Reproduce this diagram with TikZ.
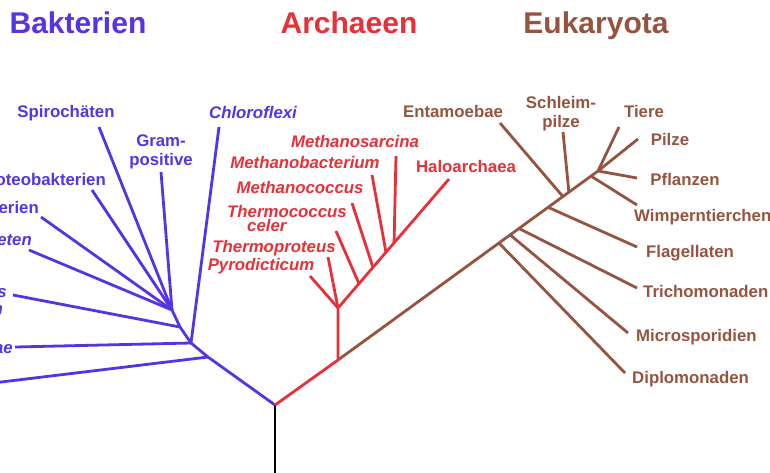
\documentclass[tikz,border=0pt]{standalone}
\usepackage{fontspec}
\setmainfont{Liberation Sans}
\usetikzlibrary{calc}
\definecolor{bact}{RGB}{85,51,230}
\definecolor{arch}{RGB}{232,48,56}
\definecolor{euk}{RGB}{150,84,64}
\begin{document}
\begin{tikzpicture}[x=1pt,y=-1pt,
  lbl/.style={inner sep=0pt, font=\bfseries\fontsize{16.8}{19}\selectfont},
  ilbl/.style={inner sep=0pt, font=\bfseries\itshape\fontsize{16.8}{19}\selectfont},
  ttl/.style={inner sep=0pt, anchor=base, font=\bfseries\fontsize{30}{32}\selectfont},
  branch/.style={line width=2.8pt, line join=round},
  bb/.style={branch, draw=bact},
  ab/.style={branch, draw=arch},
  eb/.style={branch, draw=euk}]
\useasboundingbox (0,0) rectangle (770,472);
\clip (0,0) rectangle (770,472);

% titles
\node[ttl, text=bact] (tB) at (78,33) {Bakterien};
\node[ttl, text=arch] (tA) at (349,33) {Archaeen};
\node[ttl, text=euk]  (tE) at (596,33) {Eukaryota};

% ---------- tree skeleton ----------
\coordinate (root) at (275,405);
\coordinate (base) at (275,475);
% bacteria
\coordinate (A) at (208,357);
\coordinate (B) at (191,343);
\coordinate (C) at (180,327);
\coordinate (D) at (172,310);
\coordinate (eAqu) at (-3,382.5);
\coordinate (eThg) at (15,347);
\coordinate (eChl) at (219,127);
\coordinate (eBac) at (13,295);
\coordinate (eGra) at (161,172);
\coordinate (eSpi) at (99,127);
\coordinate (ePro) at (92,190);
\coordinate (eCya) at (41,217);
\coordinate (ePla) at (29,250);
% archaea
\coordinate (R1) at (338,360);
\coordinate (R2) at (338,308);
\coordinate (eHal) at (449,179);
\coordinate (ePyr) at (310,276);
\coordinate (eTpr) at (328,257);
\coordinate (bTco) at ($(R2)!0.189!(eHal)$);
\coordinate (bMco) at ($(R2)!0.315!(eHal)$);
\coordinate (bMba) at ($(R2)!0.432!(eHal)$);
\coordinate (bMsa) at ($(R2)!0.505!(eHal)$);
\coordinate (eTco) at (336,231);
\coordinate (eMco) at (352,203);
\coordinate (eMba) at (372,175);
\coordinate (eMsa) at (396,156);
% eukaryota
\coordinate (E) at (598,171);
\coordinate (bDip) at ($(R1)!0.619!(E)$);
\coordinate (bMic) at ($(R1)!0.662!(E)$);
\coordinate (bTri) at ($(R1)!0.696!(E)$);
\coordinate (bFla) at ($(R1)!0.808!(E)$);
\coordinate (bEnt) at ($(R1)!0.865!(E)$);
\coordinate (bSch) at ($(R1)!0.888!(E)$);
\coordinate (bWim) at ($(R1)!0.973!(E)$);
\coordinate (eDip) at (625,373);
\coordinate (eMic) at (628,333);
\coordinate (eTri) at (637,288);
\coordinate (eFla) at (637,247);
\coordinate (eEnt) at (500,123);
\coordinate (eSch) at (563,132);
\coordinate (eWim) at (637,205);
\coordinate (ePfl) at (637,178);
\coordinate (ePil) at (638,139);
\coordinate (eTie) at (619,127);

% ---------- branches ----------
\draw[branch, draw=black] (base) -- (root);
% bacteria
\draw[bb] (root) -- (A) -- (B) -- (C) -- (D);
\draw[bb] (A) -- (eAqu);
\draw[bb] (B) -- (eThg);
\draw[bb] (B) -- (eChl);
\draw[bb] (C) -- (eBac);
\draw[bb] (D) -- (eGra);
\draw[bb] (D) -- (eSpi);
\draw[bb] (D) -- (ePro);
\draw[bb] (D) -- (eCya);
\draw[bb] (D) -- (ePla);
% archaea
\draw[ab] (root) -- (R1) -- (R2) -- (eHal);
\draw[ab] (R2) -- (ePyr);
\draw[ab] (R2) -- (eTpr);
\draw[ab] (bTco) -- (eTco);
\draw[ab] (bMco) -- (eMco);
\draw[ab] (bMba) -- (eMba);
\draw[ab] (bMsa) -- (eMsa);
% eukaryota
\draw[eb] (R1) -- (E);
\draw[eb] (bDip) -- (eDip);
\draw[eb] (bMic) -- (eMic);
\draw[eb] (bTri) -- (eTri);
\draw[eb] (bFla) -- (eFla);
\draw[eb] (bEnt) -- (eEnt);
\draw[eb] (bSch) -- (eSch);
\draw[eb] (bWim) -- (eWim);
\draw[eb] (E) -- (ePfl);
\draw[eb] (E) -- (ePil);
\draw[eb] (E) -- (eTie);

% ---------- labels: bacteria ----------
\begin{scope}[text=bact]
\node[lbl, anchor=base] (lSpi) at (66,117) {Spirochäten};
\node[lbl, align=center] (lGra) at (161,152) {Gram-\\positive};
\node[ilbl, anchor=base] (lChl) at (253,118) {Chloroflexi};
\node[lbl, anchor=base east] (lPro) at (106,185) {Proteobakterien};
\node[lbl, anchor=base east] (lCya) at (39,213) {Cyanobakterien};
\node[ilbl, anchor=base east] (lPla) at (32,245) {Planctomyceten};
\node[ilbl, anchor=base east] (lBac) at (7,297) {Bacteroides};
\node[ilbl, anchor=base east] (lCyt) at (3,314) {Cytophagen};
\node[ilbl, anchor=base east] (lThg) at (13,353) {Thermotogae};
\end{scope}

% ---------- labels: archaea ----------
\begin{scope}[text=arch]
\node[ilbl, anchor=base] (lMsa) at (355,147) {Methanosarcina};
\node[ilbl, anchor=base] (lMba) at (305,168) {Methanobacterium};
\node[ilbl, anchor=base] (lMco) at (300,193) {Methanococcus};
\node[ilbl, anchor=north west, align=left, font=\bfseries\itshape\fontsize{16.8}{14.5}\selectfont] (lTco) at (227,205) {Thermococcus\\\hspace*{20pt}celer};
\node[ilbl, anchor=base] (lTpr) at (274,252) {Thermoproteus};
\node[ilbl, anchor=base] (lPyr) at (261,270) {Pyrodicticum};
\node[lbl, anchor=base] (lHal) at (466,172) {Haloarchaea};
\end{scope}

% ---------- labels: eukaryota ----------
\begin{scope}[text=euk]
\node[lbl, anchor=base] (lEnt) at (453,117) {Entamoebae};
\node[lbl, align=center] (lSch) at (561,114) {Schleim-\\pilze};
\node[lbl, anchor=base] (lTie) at (644,117) {Tiere};
\node[lbl, anchor=base] (lPil) at (670,145) {Pilze};
\node[lbl, anchor=base] (lPfl) at (685,185) {Pflanzen};
\node[lbl, anchor=base west] (lWim) at (634,221) {Wimperntierchen};
\node[lbl, anchor=base west] (lFla) at (646,257) {Flagellaten};
\node[lbl, anchor=base west] (lTri) at (643,297) {Trichomonaden};
\node[lbl, anchor=base west] (lMic) at (636,341) {Microsporidien};
\node[lbl, anchor=base west] (lDip) at (632,383) {Diplomonaden};
\end{scope}
\end{tikzpicture}
\end{document}
